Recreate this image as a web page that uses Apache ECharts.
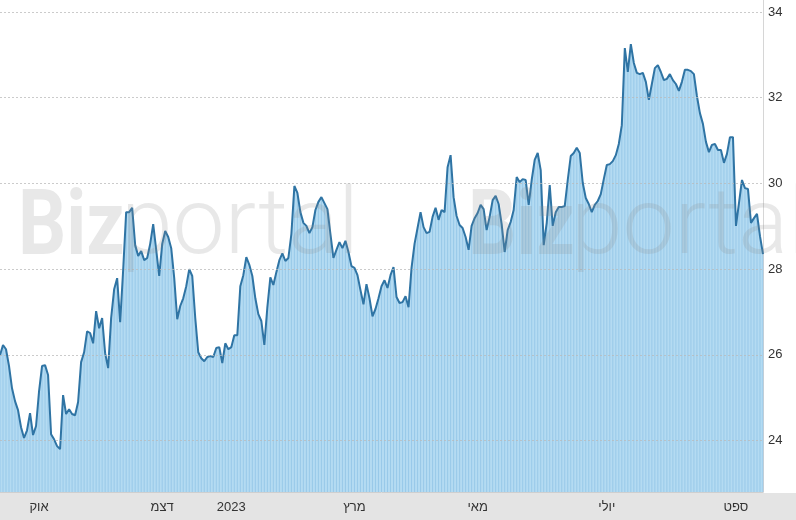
<!DOCTYPE html>
<html>
<head>
<meta charset="utf-8">
<script src="https://cdn.jsdelivr.net/npm/echarts@6.0.0/dist/echarts.min.js"></script>
<style>
html,body{margin:0;padding:0;background:#fff;}
#chart{width:796px;height:520px;}
</style>
</head>
<body>
<div id="chart"></div>
<script>
// Daily closing prices
const values = [
25.99,26.23,26.13,25.74,25.22,24.92,24.71,24.31,24.06,24.24,
24.64,24.13,24.34,25.15,25.74,25.76,25.53,24.15,24.03,23.87,
23.80,25.06,24.62,24.73,24.62,24.59,24.90,25.83,26.06,26.55,
26.51,26.27,27.02,26.62,26.86,26.04,25.69,26.86,27.53,27.79,
26.76,27.98,29.33,29.33,29.43,28.56,28.31,28.42,28.21,28.26,
28.59,29.05,28.45,27.84,28.59,28.89,28.75,28.49,27.79,26.83,
27.14,27.32,27.60,28.00,27.84,26.86,26.06,25.92,25.85,25.95,
25.97,25.95,26.16,26.18,25.81,26.27,26.13,26.18,26.46,26.46,
27.60,27.86,28.28,28.10,27.84,27.32,26.95,26.79,26.23,27.11,
27.81,27.63,27.93,28.21,28.37,28.19,28.26,28.82,29.94,29.78,
29.33,29.08,29.01,28.84,28.98,29.38,29.57,29.68,29.54,29.40,
28.82,28.26,28.45,28.63,28.49,28.66,28.40,28.07,28.03,27.86,
27.51,27.18,27.65,27.32,26.90,27.07,27.32,27.60,27.74,27.56,
27.86,28.05,27.35,27.21,27.23,27.37,27.11,28.03,28.59,28.96,
29.33,28.98,28.84,28.87,29.22,29.43,29.15,29.38,29.33,30.38,
30.66,29.68,29.24,29.03,28.96,28.75,28.45,29.01,29.19,29.31,
29.50,29.40,28.91,29.22,29.61,29.71,29.52,29.05,28.40,28.91,
29.10,29.38,30.15,30.03,30.10,30.08,29.50,30.08,30.55,30.71,
30.31,28.56,29.08,29.96,29.01,29.33,29.45,29.45,29.47,30.08,
30.64,30.71,30.83,30.71,30.01,29.66,29.52,29.33,29.50,29.59,
29.75,30.10,30.43,30.45,30.52,30.66,30.92,31.36,33.16,32.60,
33.25,32.81,32.58,32.55,32.58,32.37,31.95,32.32,32.69,32.76,
32.60,32.41,32.44,32.55,32.41,32.32,32.16,32.37,32.65,32.65,
32.62,32.55,32.04,31.64,31.39,30.97,30.73,30.90,30.92,30.78,
30.78,30.48,30.69,31.08,31.08,29.01,29.54,30.08,29.89,29.87,
29.08,29.19,29.29,28.77,28.35
];
// Month tick labels and the trading-day index they sit on
const tickLabels = ['אוק','דצמ','2023','מרץ','מאי','יולי','ספט'];
const tickIndex  = [13, 54, 77, 118, 159, 202, 245];
// Y axis tick values
const yTicks = [24, 26, 28, 30, 32, 34];
const yMin = 22.8, yMax = 34.28;

const categories = values.map((v, i) => String(i));
const labelMap = {};
tickIndex.forEach((idx, k) => { labelMap[idx] = tickLabels[k]; });

const FONT = 'Arial, "Liberation Sans", "DejaVu Sans", sans-serif';
const chart = echarts.init(document.getElementById('chart'), null, {renderer: 'canvas'});

const wmFill = 'rgba(140,140,140,0.2)';
function watermark(x0) {
  return [
    {type: 'text', x: x0, y: 231, scaleX: 0.84, z: 50, silent: true,
     style: {text: 'Biz', fontFamily: 'Roboto, Arial, sans-serif', fontWeight: 'bold', fontSize: 90,
             fill: wmFill, verticalAlign: 'middle'}},
    {type: 'text', x: x0 + 103, y: 230, z: 50, silent: true,
     style: {text: 'portal', fontFamily: 'Roboto, Arial, sans-serif', fontWeight: 300, fontSize: 93,
             fill: wmFill, verticalAlign: 'middle'}}
  ];
}

const option = {
  animation: false,
  backgroundColor: '#ffffff',
  grid: {left: 0, right: 33, top: 0, bottom: 28},
  graphic: [
    {type: 'rect', x: 0, y: 493, z: -10, silent: true,
     shape: {width: 796, height: 27}, style: {fill: '#e4e4e4'}}
  ].concat(watermark(18), watermark(468)),
  xAxis: {
    type: 'category',
    data: categories,
    boundaryGap: false,
    axisLine: {show: true, lineStyle: {color: '#cfcfcf'}},
    axisTick: {show: false},
    splitLine: {show: false},
    axisLabel: {
      interval: (i) => labelMap[i] !== undefined,
      formatter: (v) => labelMap[Number(v)] || '',
      color: '#333', fontSize: 13, fontFamily: FONT, margin: 9
    }
  },
  yAxis: {
    type: 'value',
    position: 'right',
    min: yMin, max: yMax,
    axisLine: {show: true, lineStyle: {color: '#d6d6d6'}},
    axisTick: {show: false},
    splitLine: {show: false},
    axisLabel: {customValues: yTicks, color: '#333', fontSize: 13, fontFamily: FONT, margin: 5}
  },
  series: [
    {
      type: 'line', data: values, z: 1, silent: true,
      symbol: 'none', lineStyle: {width: 0, opacity: 0},
      areaStyle: {color: '#b4dbf2', opacity: 1}
    },
    {
      type: 'bar', data: values, z: 2, silent: true,
      barWidth: 1, itemStyle: {color: 'rgba(120,180,222,0.45)'}
    },
    {
      type: 'line', data: values, z: 3, silent: true,
      symbol: 'none', lineStyle: {width: 0, opacity: 0},
      markLine: {
        silent: true, symbol: 'none', label: {show: false},
        lineStyle: {color: 'rgba(185,185,185,0.75)', type: [2, 2], width: 1},
        data: yTicks.map(v => ({yAxis: v}))
      }
    },
    {
      type: 'line', data: values, z: 4, silent: true,
      symbol: 'none', lineStyle: {color: '#2f74a4', width: 2}
    }
  ]
};
chart.setOption(option);
</script>
</body>
</html>
